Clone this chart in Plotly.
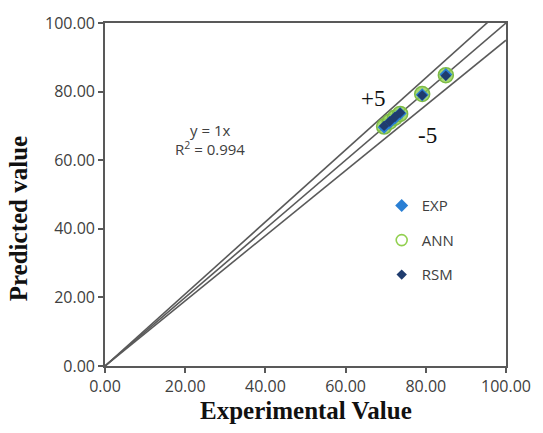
import plotly.graph_objects as go

# Data
experimental = [69.6, 71.0, 72.3, 73.6, 79.1, 85.0]
exp_pred = [69.6, 71.0, 72.3, 73.6, 79.1, 85.0]
ann_pred = [69.8, 71.2, 72.4, 73.5, 79.3, 84.8]
rsm_pred = [70.0, 71.3, 72.6, 73.8, 78.9, 84.6]
ref_slopes = [1.05, 1.0, 0.95]
ref_x = [0, 100]
tick_vals = [0, 20, 40, 60, 80, 100]

fig = go.Figure()

for s in ref_slopes:
    fig.add_trace(go.Scatter(x=ref_x, y=[v * s for v in ref_x], mode="lines",
                             line=dict(color="#5a5a5a", width=1.6),
                             showlegend=False, hoverinfo="skip"))

# ANN points (soft green blobs)
fig.add_trace(go.Scatter(x=experimental, y=ann_pred, mode="markers", name="ANN",
                         showlegend=False,
                         marker=dict(symbol="circle", size=15, color="rgba(146,208,80,0.8)",
                                     line=dict(width=1.5, color="#7DBB45"))))
# legend entry for ANN (open circle as in the reference)
fig.add_trace(go.Scatter(x=[None], y=[None], mode="markers", name="ANN",
                         legendrank=2, legendgroup="b",
                         marker=dict(symbol="circle-open", size=11, color="#92D050",
                                     line=dict(width=1.6, color="#92D050"))))
fig.add_trace(go.Scatter(x=experimental, y=exp_pred, mode="markers", name="EXP",
                         legendrank=1, legendgroup="a",
                         marker=dict(symbol="diamond", size=10, color="#2A7FD4")))
fig.add_trace(go.Scatter(x=experimental, y=rsm_pred, mode="markers", name="RSM",
                         legendrank=3, legendgroup="c",
                         marker=dict(symbol="diamond", size=8, color="#1F3C6E")))

tick_font = dict(family="Open Sans", size=16, color="#404040")
axis_common = dict(range=[0, 100], tickvals=tick_vals, tickformat=".2f",
                   showgrid=False, zeroline=False, showline=True, mirror=True,
                   linecolor="#595959", linewidth=1.6, ticks="outside",
                   ticklen=5, tickcolor="#595959", tickwidth=1.5, tickfont=tick_font)

serif = "Liberation Serif, Times New Roman, serif"

fig.update_layout(
    width=543, height=433,
    margin=dict(l=105, r=31, t=19, b=67),
    paper_bgcolor="white", plot_bgcolor="white",
    xaxis=axis_common,
    yaxis=axis_common,
    legend=dict(x=0.69, y=0.515, xanchor="left", yanchor="top",
                traceorder="grouped", tracegroupgap=12,
                font=dict(family="Open Sans", size=15, color="#404040"),
                bgcolor="rgba(0,0,0,0)"),
    annotations=[
        dict(text="<b>Experimental Value</b>", x=0.50, y=-0.13, xref="paper", yref="paper",
             xanchor="center", yanchor="middle", showarrow=False,
             font=dict(family=serif, size=25, color="#111")),
        dict(text="<b>Predicted value</b>", x=-0.215, y=0.43, xref="paper", yref="paper",
             xanchor="center", yanchor="middle", showarrow=False, textangle=-90,
             font=dict(family=serif, size=25, color="#111")),
        dict(text="+5", x=66.8, y=78.1, showarrow=False,
             font=dict(family=serif, size=23, color="#111")),
        dict(text="-5", x=80.3, y=67.1, showarrow=False,
             font=dict(family=serif, size=23, color="#111")),
        dict(text="y = 1x", x=26.3, y=68.8, showarrow=False,
             font=dict(family="Open Sans", size=15, color="#404040")),
        dict(text="R<sup>2</sup> = 0.994", x=26.3, y=63.3, showarrow=False,
             font=dict(family="Open Sans", size=15, color="#404040")),
    ],
)

fig.write_html("out.html")
